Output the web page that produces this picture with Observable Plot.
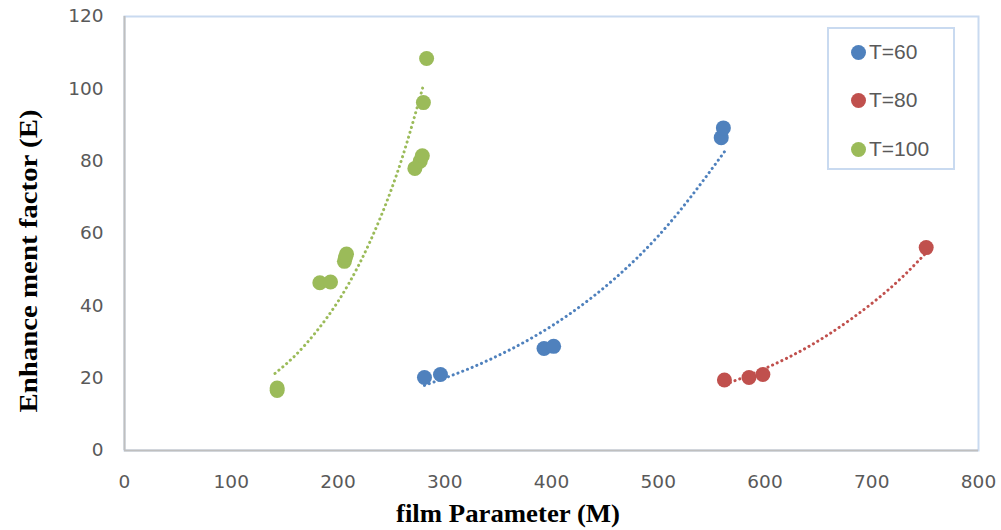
<!DOCTYPE html>
<html>
<head>
<meta charset="utf-8">
<script src="https://cdn.jsdelivr.net/npm/d3@7"></script>
<script src="https://cdn.jsdelivr.net/npm/@observablehq/plot@0.6"></script>
<style>
  html, body { margin: 0; padding: 0; background: #fff; }
  #wrap { position: relative; width: 1001px; height: 530px; }
  #legend {
    position: absolute; left: 827px; top: 27px; width: 128px; height: 143px;
    border: 2px solid #c9daf0; box-sizing: border-box; background: #fff;
    font-family: "Liberation Sans", Arial, sans-serif; font-size: 21px; color: #595959;
  }
  .li { position: absolute; left: 22px; display: flex; align-items: center; height: 24px; }
  .sw { width: 15px; height: 15px; border-radius: 50%; margin-right: 3px; }
</style>
</head>
<body>
<div id="wrap"></div>
<script>
// Series names and colours
const seriesNames = ["T=60", "T=80", "T=100"];
const seriesColors = ["#4F81BD", "#C0504D", "#9BBB59"];

// T=60 points
const t60X = [281, 296, 393, 402, 559, 561];
const t60Y = [20.2, 21.0, 28.2, 28.8, 86.5, 89.2];
// T=80 points
const t80X = [562, 585, 598, 751];
const t80Y = [19.5, 20.2, 21.0, 56.1];
// T=100 points
const t100X = [143, 143, 183, 193, 206, 207, 208, 272, 277, 279, 280, 283];
const t100Y = [16.6, 17.3, 46.4, 46.6, 52.3, 53.4, 54.3, 78.0, 80.0, 81.5, 96.2, 108.4];

// Dotted trend lines
const trend60X = [281, 320, 360, 400, 440, 480, 520, 563];
const trend60Y = [18.0, 22.3, 27.7, 34.4, 42.8, 53.2, 66.2, 83.0];
const trend80X = [563, 600, 640, 680, 720, 753];
const trend80Y = [18.3, 22.7, 28.6, 36.2, 45.6, 55.3];
const trend100X = [141, 160, 180, 200, 220, 240, 260, 280];
const trend100Y = [21.3, 26.3, 33.0, 41.2, 51.6, 64.6, 80.8, 101.0];

// Axis ticks
const xTicks = [0, 100, 200, 300, 400, 500, 600, 700, 800];
const yTicks = [0, 20, 40, 60, 80, 100, 120];

const toRows = (xs, ys, s) => xs.map((x, i) => ({x, y: ys[i], s}));
const points = [
  ...toRows(t60X, t60Y, "T=60"),
  ...toRows(t80X, t80Y, "T=80"),
  ...toRows(t100X, t100Y, "T=100")
];
const trends = [
  ...toRows(trend60X, trend60Y, "T=60"),
  ...toRows(trend80X, trend80Y, "T=80"),
  ...toRows(trend100X, trend100Y, "T=100")
];

const chart = Plot.plot({
  width: 1001,
  height: 530,
  marginLeft: 124,
  marginRight: 23,
  marginTop: 16,
  marginBottom: 80,
  style: {fontFamily: "DejaVu Sans, Liberation Sans, sans-serif", fontSize: "18.5px", color: "#595959", background: "#fff"},
  x: {domain: [0, 800], label: null},
  y: {domain: [0, 120], label: null},
  color: {domain: seriesNames, range: seriesColors},
  marks: [
    Plot.frame({stroke: "#c9daf0", strokeWidth: 2}),
    Plot.ruleX([0], {stroke: "#bfbfbf", strokeWidth: 2}),
    Plot.ruleY([0], {stroke: "#bfbfbf", strokeWidth: 2}),
    Plot.axisX({ticks: xTicks, tickSize: 0, tickPadding: 24, label: null}),
    Plot.axisY({ticks: yTicks, tickSize: 0, tickPadding: 21, label: null}),
    Plot.dot(points, {x: "x", y: "y", fill: "s", r: 7.5}),
    Plot.line(trends, {x: "x", y: "y", z: "s", stroke: "s", strokeWidth: 3, strokeDasharray: "0.1,5", strokeLinecap: "round", curve: "natural"})
  ]
});

const svg = d3.select(chart);
svg.append("text")
  .attr("transform", "translate(37,261) rotate(-90)")
  .attr("text-anchor", "middle")
  .attr("font-family", "Liberation Serif, Times New Roman, serif")
  .attr("font-weight", "bold")
  .attr("font-size", 26)
  .attr("textLength", 303)
  .attr("lengthAdjust", "spacingAndGlyphs")
  .attr("fill", "#000")
  .text("Enhance ment factor (E)");
svg.append("text")
  .attr("x", 508)
  .attr("y", 522)
  .attr("text-anchor", "middle")
  .attr("font-family", "Liberation Serif, Times New Roman, serif")
  .attr("font-weight", "bold")
  .attr("font-size", 25)
  .attr("textLength", 224)
  .attr("lengthAdjust", "spacingAndGlyphs")
  .attr("fill", "#000")
  .text("film Parameter (M)");

const wrap = document.getElementById("wrap");
wrap.appendChild(chart);

const legend = document.createElement("div");
legend.id = "legend";
const tops = [11, 59, 108];
seriesNames.forEach((name, i) => {
  const item = document.createElement("div");
  item.className = "li";
  item.style.top = tops[i] + "px";
  const sw = document.createElement("span");
  sw.className = "sw";
  sw.style.background = seriesColors[i];
  const tx = document.createElement("span");
  tx.textContent = name;
  item.appendChild(sw);
  item.appendChild(tx);
  legend.appendChild(item);
});
wrap.appendChild(legend);
</script>
</body>
</html>
